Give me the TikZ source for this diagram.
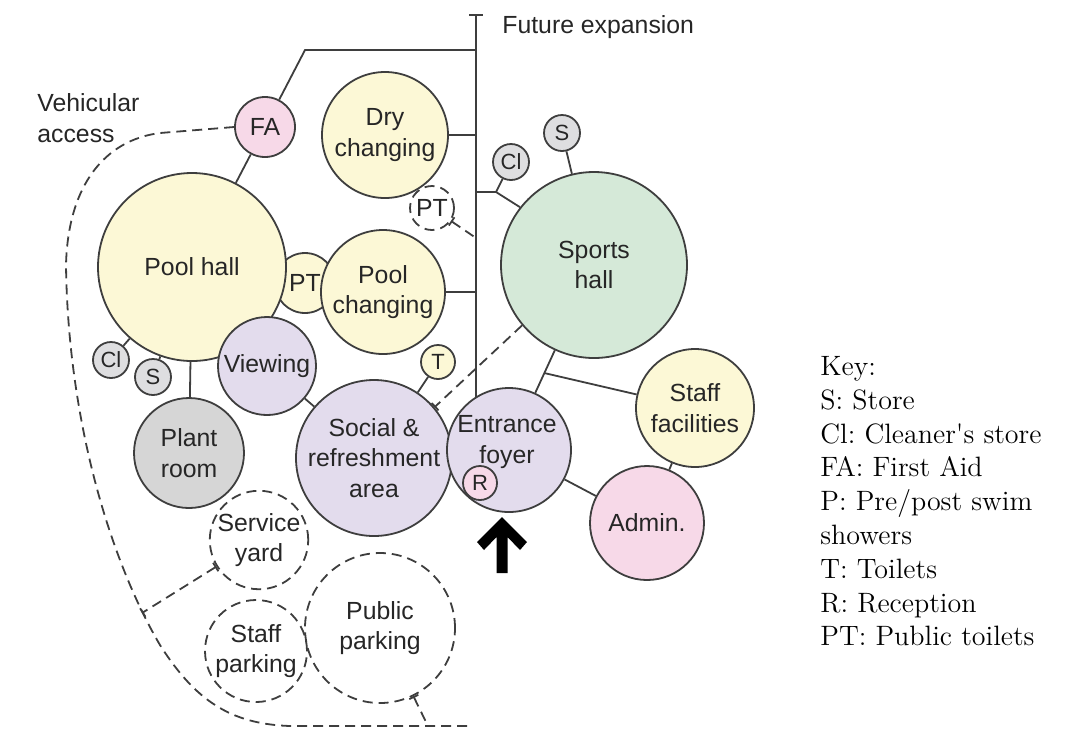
\documentclass[tikz,border=0pt]{standalone}
\usepackage{fontspec}
\newfontfamily\labelfont{Liberation Sans}
\usetikzlibrary{arrows.meta, calc, backgrounds}
\definecolor{edgegrey}{RGB}{62,62,62}
\definecolor{textgrey}{RGB}{38,38,38}
\definecolor{hallyellow}{RGB}{252,248,214}
\definecolor{aidpink}{RGB}{247,217,232}
\definecolor{socialpurple}{RGB}{227,220,237}
\definecolor{sportsgreen}{RGB}{213,233,216}
\definecolor{plantgrey}{RGB}{214,214,214}
\definecolor{storegrey}{RGB}{222,222,224}
\tikzset{
    room/.style={circle, draw=edgegrey, line width=0.9pt, inner sep=0pt, align=center, text=textgrey, font=\labelfont\fontsize{12.4}{15.3}\selectfont},
    rad/.style={minimum size=#1pt},
    store/.style={room, fill=storegrey, font=\labelfont\fontsize{11}{13}\selectfont},
    outdoor/.style={room, dash pattern=on 5pt off 3pt},
    link/.style={draw=edgegrey, line width=0.9pt},
    dlink/.style={link, dash pattern=on 5pt off 3pt},
    tick/.tip={Bar[width=5pt]}
}

\begin{document}
\begin{tikzpicture}[x=0.5pt, y=-0.5pt]
    \useasboundingbox (0,0) rectangle (1081,730);

    % Rooms
    \node (pt1) [room, fill=hallyellow, rad=30] at (305,283) {PT};
    \node (ph) [room, fill=hallyellow, rad=94] at (192,267) {Pool hall};
    \node (pc) [room, fill=hallyellow, rad=62] at (383,292) {Pool\\changing};
    \node (dc) [room, fill=hallyellow, rad=63] at (385,135) {Dry\\changing};
    \node (fa) [room, fill=aidpink, rad=30] at (265,127) {FA};
    \node (pt2) [outdoor, rad=22] at (432,208) {PT};
    \node (sh) [room, fill=sportsgreen, rad=93] at (594,265) {Sports\\hall};
    \node (cl2) [store, rad=18] at (511,162) {Cl};
    \node (s2) [store, rad=18] at (562,133) {S};
    \node (cl1) [store, rad=18] at (111,360) {Cl};
    \node (s1) [store, rad=18] at (153,377) {S};
    \node (vw) [room, fill=socialpurple, rad=49] at (267,366) {Viewing};
    \node (pr) [room, fill=plantgrey, rad=55] at (189,453) {Plant\\room};
    \node (t) [store, fill=hallyellow, rad=17] at (438,362) {T};
    \node (sr) [room, fill=socialpurple, rad=78] at (374,458) {Social \&\\refreshment\\area};
    \node (ef) [room, fill=socialpurple, rad=62] at (509,450) {};
    \node (eftext) [text=textgrey, inner sep=0pt, align=center, font=\labelfont\fontsize{12.4}{15.3}\selectfont] at (507,442) {Entrance\\foyer};
    \node (r) [store, fill=aidpink, rad=17] at (480,483) {R};
    \node (sf) [room, fill=hallyellow, rad=59] at (695,408) {Staff\\facilities};
    \node (ad) [room, fill=aidpink, rad=57] at (647,523) {Admin.};
    \node (sy) [outdoor, rad=47] at (259,540) {Service\\yard};
    \node (sp) [outdoor, rad=51] at (256,651) {Staff\\parking};
    \node (pp) [outdoor, rad=75] at (380,628) {Public\\parking};

    % Labels
    \node (va) [anchor=west, align=left, inner sep=0pt, text=textgrey, font=\labelfont\fontsize{12.4}{15.3}\selectfont] at (37,118) {Vehicular\\access};
    \node (fe) [anchor=west, inner sep=0pt, text=textgrey, font=\labelfont\fontsize{12.4}{15.3}\selectfont] at (502,27) {Future expansion};
    \node (key) [anchor=north west, align=left, inner sep=0pt, font=\fontsize{14}{16.9}\selectfont\frenchspacing] at (820,356) {Key:\\S: Store\\Cl: Cleaner\textquotesingle s store\\FA: First Aid\\P: Pre/post swim\\showers\\T: Toilets\\R: Reception\\PT: Public toilets};

    % Points
    \coordinate (spine) at (476,14);
    \coordinate (fa-corner) at (305,50);
    \coordinate (cl-jn) at (496,192);
    \coordinate (pt2-end) at (476,238);
    \coordinate (sf-jn) at ($(sh)!0.584!(ef)$);
    \coordinate (sy-end) at (142,613);
    \coordinate (pp-end) at (428,726);
    \coordinate (va-end) at (472,726);
    \coordinate (entry) at (502,573);

    % Links
    \begin{scope}[on background layer]
        \draw [link, {Bar[width=7pt]}-] (spine) -- (spine |- ef.center);
        \draw [link] (fa) -- (fa-corner) -- (fa-corner -| spine);
        \draw [link] (fa) -- (ph);
        \draw [link] (dc.east) -- (dc.east -| spine);
        \draw [link] (pc.east) -- (pc.east -| spine);
        \draw [dlink, {tick}-] (pt2) -- (pt2-end);
        \draw [link] (cl-jn -| spine) -- (cl-jn) -- (sh.142);
        \draw [link] (cl-jn) -- (cl2);
        \draw [link] (s2) -- (sh);
        \draw [link] (cl1) -- (ph);
        \draw [link] (s1) -- (ph);
        \draw [link] (ph) -- (pr);
        \draw [link] (vw) -- (sr);
        \draw [link] (t) -- (sr);
        \draw [link] (sh) -- (ef);
        \draw [link] (sf-jn) -- (sf);
        \draw [link] (sf) -- (ad);
        \draw [link] (ef) -- (ad);
        \draw [dlink, -{tick}] (sh.220) -- (sr.40);
    \end{scope}

    % Vehicular access
    \draw [dlink] (fa.west) -- (160,133) .. controls (105,140) and (68,185) .. (66,265)
        .. controls (68,420) and (110,560) .. (160,645)
        .. controls (195,700) and (230,724) .. (290,726) -- (va-end);
    \draw [dlink, {tick}-{tick}] (sy) -- (sy-end);
    \draw [dlink, {tick}-] (pp) -- (pp-end);

    % Entrance arrow
    \fill [black, shift={(entry)}] (0,-56) -- (25,-31) -- (18,-23) -- (5.5,-36) -- (5.5,0)
        -- (-5.5,0) -- (-5.5,-36) -- (-18,-23) -- (-25,-31) -- cycle;

\end{tikzpicture}
\end{document}
